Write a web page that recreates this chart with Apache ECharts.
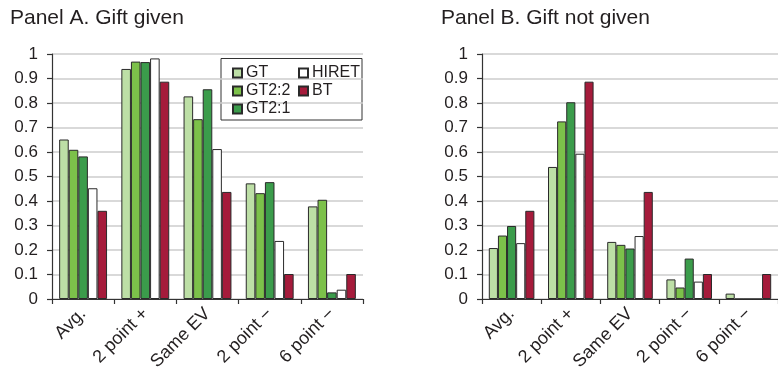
<!DOCTYPE html>
<html>
<head>
<meta charset="utf-8">
<script src="https://cdn.jsdelivr.net/npm/echarts@6/dist/echarts.min.js"></script>
<style>
  html, body { margin: 0; padding: 0; background: #fff; }
  #chart { width: 778px; height: 376px; }
</style>
</head>
<body>
<div id="chart"></div>
<script>
// Categories and treatment shares, one array per treatment and panel
const categories = ['Avg.', '2 point +', 'Same EV', '2 point \u2212', '6 point \u2212'];
const seriesNames = ['GT', 'GT2:2', 'GT2:1', 'HIRET', 'BT'];
const seriesColors = ['#bddfa6', '#7cc14a', '#3b9c4b', '#ffffff', '#a51b3b'];

// Panel A. Gift given
const giftGT    = [0.651, 0.939, 0.827, 0.472, 0.378];
const giftGT22  = [0.609, 0.969, 0.734, 0.432, 0.405];
const giftGT21  = [0.582, 0.967, 0.856, 0.477, 0.027];
const giftHIRET = [0.452, 0.982, 0.612, 0.237, 0.038];
const giftBT    = [0.360, 0.887, 0.437, 0.102, 0.102];

// Panel B. Gift not given
const noGiftGT    = [0.208, 0.539, 0.233, 0.080, 0.022];
const noGiftGT22  = [0.259, 0.725, 0.221, 0.047, 0];
const noGiftGT21  = [0.298, 0.803, 0.206, 0.165, 0];
const noGiftHIRET = [0.228, 0.593, 0.257, 0.071, 0];
const noGiftBT    = [0.360, 0.887, 0.437, 0.102, 0.102];

const panelTitles = ['Panel A. Gift given', 'Panel B. Gift not given'];

const FONT = 'Liberation Sans, Arial, Helvetica, sans-serif';
const TEXT = '#231f20';

const panelData = [
  [giftGT, giftGT22, giftGT21, giftHIRET, giftBT],
  [noGiftGT, noGiftGT22, noGiftGT21, noGiftHIRET, noGiftBT]
];

function makeXAxis(gridIndex) {
  return {
    type: 'category', gridIndex, data: categories,
    axisLine: { lineStyle: { color: '#333', width: 1.2 } },
    axisTick: { show: true, length: 5, lineStyle: { color: '#333', width: 1.2 } },
    axisLabel: { rotate: 45, margin: 12, fontSize: 18, color: TEXT, fontFamily: FONT },
    splitLine: { show: false }
  };
}

function makeYAxis(gridIndex) {
  return {
    type: 'value', gridIndex, min: 0, max: 1, interval: 0.1,
    axisLine: { show: true, lineStyle: { color: '#333', width: 1.2 } },
    axisTick: { show: true, length: 5, lineStyle: { color: '#333', width: 1.2 } },
    axisLabel: { margin: 14, fontSize: 17, color: TEXT, fontFamily: FONT },
    splitLine: { show: true, lineStyle: { color: '#cccccc', width: 1.5 } }
  };
}

const series = [];
panelData.forEach((vals, p) => {
  vals.forEach((arr, i) => {
    series.push({
      type: 'bar', name: seriesNames[i], data: arr,
      xAxisIndex: p, yAxisIndex: p,
      barGap: '0%', barCategoryGap: '23%',
      itemStyle: { color: seriesColors[i], borderColor: '#2a2a2a', borderWidth: 1 },
      emphasis: { disabled: true },
      animation: false
    });
  });
});

const legendCommon = {
  orient: 'vertical', icon: 'rect', itemWidth: 9, itemHeight: 9, itemGap: 2,
  selectedMode: false,
  textStyle: { fontSize: 16, color: TEXT, fontFamily: FONT, padding: [0, 0, 0, -1] }
};

const option = {
  backgroundColor: '#fff',
  animation: false,
  title: [
    { text: panelTitles[0], left: 5, top: 3, textStyle: { fontSize: 21, fontWeight: 'normal', color: TEXT, fontFamily: FONT } },
    { text: panelTitles[1], left: 436, top: 3, textStyle: { fontSize: 21, fontWeight: 'normal', color: TEXT, fontFamily: FONT } }
  ],
  grid: [
    { left: 52, top: 54, width: 311, height: 245 },
    { left: 482, top: 54, width: 305, height: 245 }
  ],
  xAxis: [makeXAxis(0), makeXAxis(1)],
  yAxis: [makeYAxis(0), makeYAxis(1)],
  legend: [
    Object.assign({}, legendCommon, { left: 227, top: 60, data: ['GT', 'GT2:2', 'GT2:1'] }),
    Object.assign({}, legendCommon, { left: 293, top: 60, data: ['HIRET', 'BT'] })
  ],
  graphic: [
    { type: 'rect', shape: { x: 221, y: 58.5, width: 141, height: 61.5 },
      style: { fill: '#ffffff', stroke: '#333', lineWidth: 1 }, z: 0, zlevel: 0 }
  ],
  series
};

const chart = echarts.init(document.getElementById('chart'), null, { renderer: 'canvas' });
chart.setOption(option);
</script>
</body>
</html>
